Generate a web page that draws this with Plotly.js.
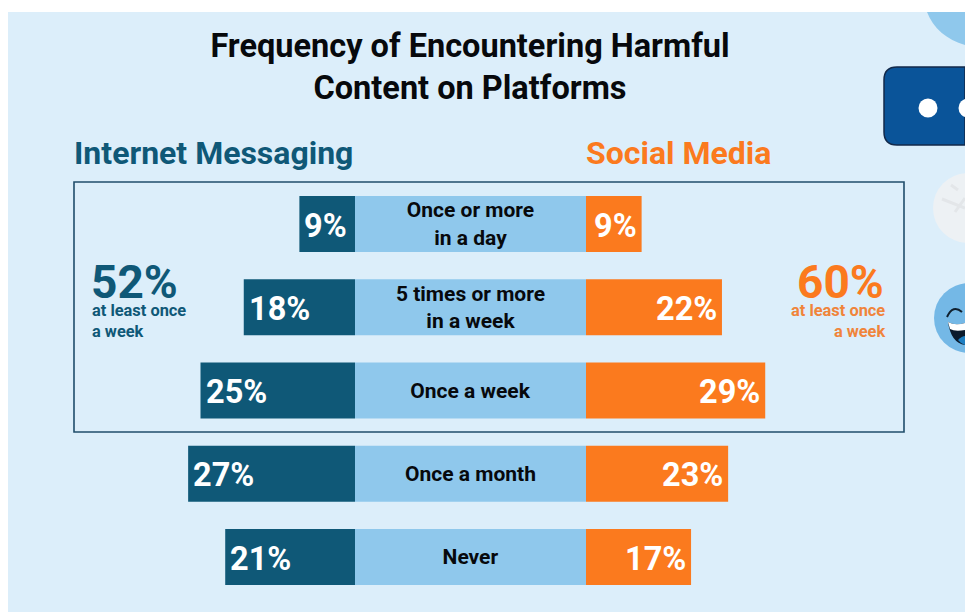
<!DOCTYPE html>
<html>
<head>
<meta charset="utf-8">
<script src="https://cdn.plot.ly/plotly-3.0.1.min.js"></script>
<style>html,body{margin:0;padding:0;background:#fff;overflow:hidden}#chart{width:965px;height:612px}</style>
</head>
<body>
<div id="chart"></div>
<script>
// Frequency of encountering harmful content, by platform type
const categories = ["Once or more<br>in a day", "5 times or more<br>in a week", "Once a week", "Once a month", "Never"];
const messaging = [9, 18, 25, 27, 21];
const socialMedia = [9, 22, 29, 23, 17];
const bandWidth = [1, 1, 1, 1, 1];
const messagingWeekly = "52%";
const socialWeekly = "60%";

const W = 965, H = 612;
const PX_PER_PCT = 6.18;
const LEFT_EDGE = 355, RIGHT_EDGE = 586;
const ROW_PITCH = 83.25, FIRST_ROW = 224;
const FONT = "Roboto, sans-serif";
const TEAL = "#0f5877", ORANGE = "#fb7a1e", BAND = "#8fc8ec", PANEL = "#dceefa", INK = "#07090c";

const px = x => x / W;
const py = y => 1 - y / H;
const pct = v => v + "%";

const traces = [
  {
    type: "bar", orientation: "h", name: "Internet Messaging",
    x: messaging, y: categories, xaxis: "x", yaxis: "y",
    marker: {color: TEAL}, width: 0.675, hoverinfo: "skip"
  },
  {
    type: "bar", orientation: "h", name: "Category",
    x: bandWidth, y: categories, xaxis: "x3", yaxis: "y",
    marker: {color: BAND}, width: 0.675,
    text: categories, textposition: "inside", insidetextanchor: "middle",
    textangle: 0, constraintext: "none",
    insidetextfont: {family: FONT, size: 21, color: INK, weight: 700},
    hoverinfo: "skip"
  },
  {
    type: "bar", orientation: "h", name: "Social Media",
    x: socialMedia, y: categories, xaxis: "x2", yaxis: "y",
    marker: {color: ORANGE}, width: 0.675, hoverinfo: "skip"
  }
];

const hiddenX = {showgrid: false, zeroline: false, showticklabels: false, ticks: "", showline: false, fixedrange: true};

// Helpers for the page furniture, placed in pixel terms on the paper
const rect = (x0, y0, x1, y1, fill, line) => ({
  type: "rect", xref: "paper", yref: "paper", layer: "below",
  x0: px(x0), x1: px(x1), y0: py(y0), y1: py(y1),
  fillcolor: fill, line: line || {width: 0}
});
const circle = (cx, cy, r, fill) => ({
  type: "circle", xref: "paper", yref: "paper", layer: "below",
  x0: px(cx - r), x1: px(cx + r), y0: py(cy + r), y1: py(cy - r),
  fillcolor: fill, line: {width: 0}
});
const path = (d, fill, line) => ({
  type: "path", xref: "paper", yref: "paper", layer: "below",
  path: d.replace(/(-?[\d.]+),(-?[\d.]+)/g, (m, a, b) => px(+a) + "," + py(+b)),
  fillcolor: fill || "rgba(0,0,0,0)", line: line || {width: 0}
});

const shapes = [
  rect(8, 12, W, H, PANEL),
  // corner bubble, clipped to the panel's top edge
  path("M927,12 C933,28 947,40 965,45 L965,12 Z", "#8fc8ec"),
  // chat bubble
  path("M897,67 L965,67 L965,145 L897,145 Q884,145 884,132 L884,80 Q884,67 897,67 Z", "#0a5499", {color: "#12294a", width: 1.5}),
  circle(928, 108, 9.5, "#ffffff"),
  circle(968, 108, 9.5, "#ffffff"),
  // pale snow badge
  circle(968, 208, 35, "#edf1f4"),
  path("M942,199 L965,208 M955,212 L965,198 M951,185 L958,190", null, {color: "#e3e6e9", width: 3}),
  // laughing face
  circle(969, 318, 35, "#74b8e6"),
  path("M947,317 Q953,304 962,312", null, {color: "#10202e", width: 2}),
  path("M948,322 Q955,326 965,323 L965,345 Q951,343 948,322 Z", "#0b1a2c"),
  path("M948,322 Q955,326 965,323 L965,330 Q955,332 950,329 Z", "#ffffff"),
  path("M958,340 Q962,336 965,336 L965,345 Q961,344 958,340 Z", "#1c7ec2"),
  // bracket around the weekly-or-more rows
  rect(74, 182, 904, 432, "rgba(0,0,0,0)", {color: "#204d6b", width: 1.6})
];

const note = (text, x, y, anchor, size, color) => ({
  text, x: px(x), y: py(y), xref: "paper", yref: "paper",
  xanchor: anchor, yanchor: "middle", align: anchor, showarrow: false,
  font: {family: FONT, size, color, weight: 700}
});

// Percentages sit just inside the outer end of each bar
const valueLabel = (v, i, xref, shift) => ({
  text: pct(v), x: v, y: i, xref, yref: "y",
  xanchor: shift > 0 ? "left" : "right", yanchor: "middle",
  xshift: shift, yshift: -1.5, showarrow: false,
  font: {family: FONT, size: 32.5, color: "#ffffff", weight: 700}
});

const annotations = [
  note("Internet Messaging", 72, 153, "left", 32, TEAL),
  note("Social Media", 584, 153, "left", 32, ORANGE),
  note(messagingWeekly, 89, 282, "left", 46, TEAL),
  note("at least once<br>a week", 90, 321, "left", 16.4, TEAL),
  note(socialWeekly, 886, 282, "right", 46, ORANGE),
  note("at least once<br>a week", 887, 321, "right", 16.4, "#f0843a"),
  ...messaging.map((v, i) => valueLabel(v, i, "x", 3)),
  ...socialMedia.map((v, i) => valueLabel(v, i, "x2", -3))
];

const layout = {
  width: W, height: H,
  margin: {l: 0, r: 0, t: 0, b: 0, pad: 0},
  paper_bgcolor: "#ffffff", plot_bgcolor: "rgba(0,0,0,0)",
  showlegend: false, barmode: "overlay",
  title: {
    text: "Frequency of Encountering Harmful<br>Content on Platforms",
    x: px(470), xanchor: "center", y: py(57), yanchor: "middle",
    font: {family: FONT, size: 32.5, color: INK, weight: 700}
  },
  xaxis: Object.assign({}, hiddenX, {domain: [0, px(LEFT_EDGE)], range: [LEFT_EDGE / PX_PER_PCT, 0]}),
  xaxis2: Object.assign({}, hiddenX, {domain: [px(RIGHT_EDGE), 1], range: [0, (W - RIGHT_EDGE) / PX_PER_PCT], anchor: "y"}),
  xaxis3: Object.assign({}, hiddenX, {domain: [px(LEFT_EDGE), px(RIGHT_EDGE)], range: [0, 1], anchor: "y"}),
  yaxis: {
    type: "category", categoryorder: "array", categoryarray: categories,
    domain: [0, 1],
    range: [(H - FIRST_ROW) / ROW_PITCH, -FIRST_ROW / ROW_PITCH],
    showgrid: false, zeroline: false, showticklabels: false, ticks: "", showline: false, fixedrange: true
  },
  shapes, annotations
};

Plotly.newPlot("chart", traces, layout, {displayModeBar: false, staticPlot: true});
</script>
</body>
</html>
